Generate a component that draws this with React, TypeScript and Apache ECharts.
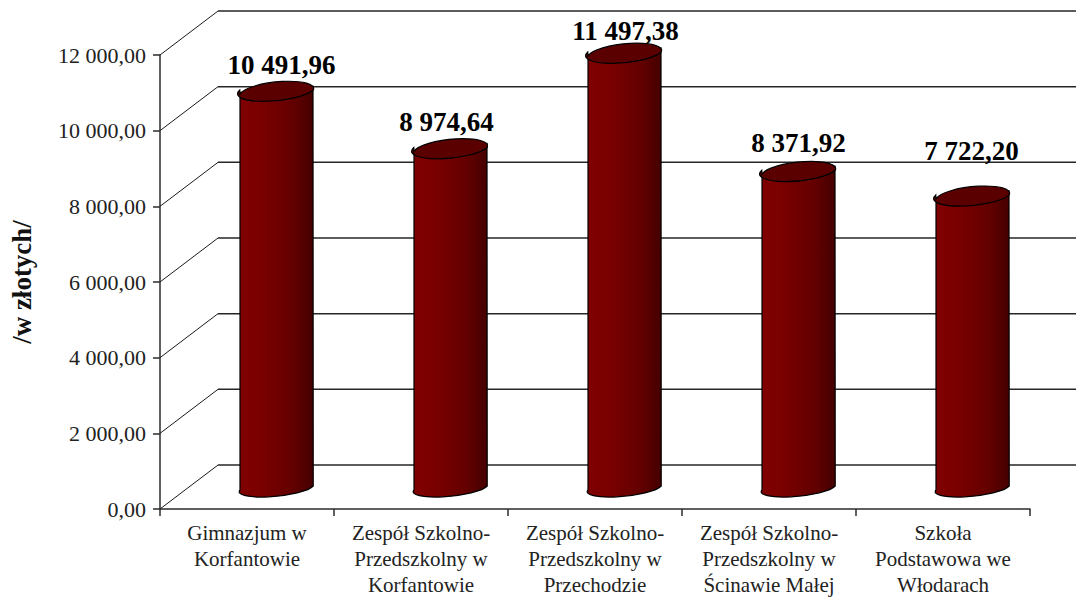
import React, { useEffect, useRef } from "react";
import * as echarts from "echarts";

const categories = [
  "Gimnazjum w\nKorfantowie",
  "Zespół Szkolno-\nPrzedszkolny w\nKorfantowie",
  "Zespół Szkolno-\nPrzedszkolny w\nPrzechodzie",
  "Zespół Szkolno-\nPrzedszkolny w\nŚcinawie Małej",
  "Szkoła\nPodstawowa we\nWłodarach",
];
const values = [10491.96, 8974.64, 11497.38, 8371.92, 7722.2];
const yTicks = [0, 2000, 4000, 6000, 8000, 10000, 12000];
const yAxisTitle = "/w złotych/";

// Hand-placed data label shifts, as in the original (px from the default spot).
const labelShiftX = [5, -4, 1, 0, -1];
const labelShiftY = [0, 0, 4, -2, -19];

const FONT = "'Liberation Serif', 'Times New Roman', serif";
const BACK_DX = 58;
const BACK_DY = -44;
const MID_DX = 29.5;
const MID_DY = -22;
const RX = 36.5;
const TILT = 4;
const RY = 10;
const RY_BASE = 8;

const fmt = (v: number) => {
  const [i, d] = v.toFixed(2).split(".");
  return i.replace(/\B(?=(\d{3})+$)/g, " ") + "," + d;
};

export default function App() {
  const ref = useRef<HTMLDivElement>(null);
  useEffect(() => {
    if (!ref.current) return;
    const chart = echarts.init(ref.current, undefined, { renderer: "svg" });
    chart.setOption({
      animation: false,
      backgroundColor: "#ffffff",
      textStyle: { fontFamily: FONT },
      grid: { left: 160, right: 46, top: 55, bottom: 88, containLabel: false, outerBoundsMode: "none" },
      xAxis: {
        type: "category",
        data: categories,
        boundaryGap: true,
        axisLine: { show: true, lineStyle: { color: "#2b2b2b", width: 1.5 } },
        axisTick: { show: true, length: 7, alignWithLabel: false, lineStyle: { color: "#2b2b2b", width: 1.5 } },
        axisLabel: {
          interval: 0,
          color: "#222222",
          fontFamily: FONT,
          fontSize: 21,
          lineHeight: 26,
          margin: 11,
        },
      },
      yAxis: {
        type: "value",
        min: 0,
        max: 12000,
        interval: 2000,
        name: yAxisTitle,
        nameLocation: "middle",
        nameGap: 125,
        nameRotate: 90,
        nameTextStyle: { fontFamily: FONT, fontSize: 27, fontWeight: "bold", color: "#111111" },
        splitLine: { show: false },
        axisLine: { show: true, lineStyle: { color: "#2b2b2b", width: 1.5 } },
        axisTick: { show: true, length: 7, lineStyle: { color: "#2b2b2b", width: 1.5 } },
        axisLabel: {
          color: "#222222",
          fontFamily: FONT,
          fontSize: 22,
          margin: 14,
          formatter: (v: number) => fmt(v),
        },
      },
      series: [
        {
          type: "custom",
          name: "wall",
          silent: true,
          z: 1,
          encode: { x: 0, y: 1 },
          data: yTicks.map((t) => [0, t]),
          renderItem: (_p: any, api: any) => {
            const tick = api.value(1);
            const y = api.coord([0, tick])[1];
            const x0 = 160;
            return {
              type: "group",
              children: [
                {
                  type: "line",
                  shape: { x1: x0, y1: y, x2: x0 + BACK_DX, y2: y + BACK_DY },
                  style: { stroke: "#1a1a1a", lineWidth: 1 },
                },
                {
                  type: "line",
                  shape: { x1: x0 + BACK_DX, y1: y + BACK_DY, x2: api.getWidth(), y2: y + BACK_DY },
                  style: { stroke: "#262626", lineWidth: 1.5 },
                },
              ],
            };
          },
        },
        {
          type: "custom",
          name: "values",
          z: 3,
          encode: { x: 0, y: 1 },
          data: values.map((v, i) => [i, v]),
          renderItem: (_p: any, api: any) => {
            const i = api.value(0);
            const v = api.value(1);
            const top = api.coord([i, v]);
            const base = api.coord([i, 0]);
            const cx = top[0] + MID_DX;
            const ty = top[1] + MID_DY;
            const by = base[1] + MID_DY;
            const rx = Math.hypot(RX, TILT);
            const rot = (-Math.atan2(TILT, RX) * 180) / Math.PI;
            const L = cx - RX;
            const R = cx + RX;
            const body =
              `M${L} ${ty + TILT} L${L} ${by + TILT - 1} ` +
              `A${rx} ${RY_BASE} ${rot} 0 0 ${R} ${by - TILT - 1} ` +
              `L${R} ${ty - TILT} Z`;
            const cap =
              `M${L} ${ty + TILT} A${rx} ${RY} ${rot} 0 1 ${R} ${ty - TILT} ` +
              `A${rx} ${RY} ${rot} 0 1 ${L} ${ty + TILT} Z`;
            return {
              type: "group",
              children: [
                {
                  type: "path",
                  shape: { pathData: body },
                  style: {
                    stroke: "#000000",
                    lineWidth: 1.2,
                    fill: new echarts.graphic.LinearGradient(0, 0, 1, 0, [
                      { offset: 0, color: "#800000" },
                      { offset: 0.3, color: "#7a0000" },
                      { offset: 0.7, color: "#650000" },
                      { offset: 1, color: "#450000" },
                    ]),
                  },
                },
                {
                  type: "path",
                  shape: { pathData: cap },
                  style: { stroke: "#000000", lineWidth: 1.2, fill: "#5a0000" },
                },
                {
                  type: "text",
                  style: {
                    text: fmt(v),
                    x: cx + labelShiftX[i],
                    y: ty - 25 + labelShiftY[i],
                    align: "center",
                    verticalAlign: "middle",
                    fontFamily: FONT,
                    fontSize: 27,
                    fontWeight: "bold",
                    fill: "#000000",
                  },
                },
              ],
            };
          },
        },
      ],
    });
    return () => chart.dispose();
  }, []);
  return (
    <div
      ref={ref}
      style={{ position: "absolute", left: 0, top: 0, width: 1076, height: 597 }}
    />
  );
}
